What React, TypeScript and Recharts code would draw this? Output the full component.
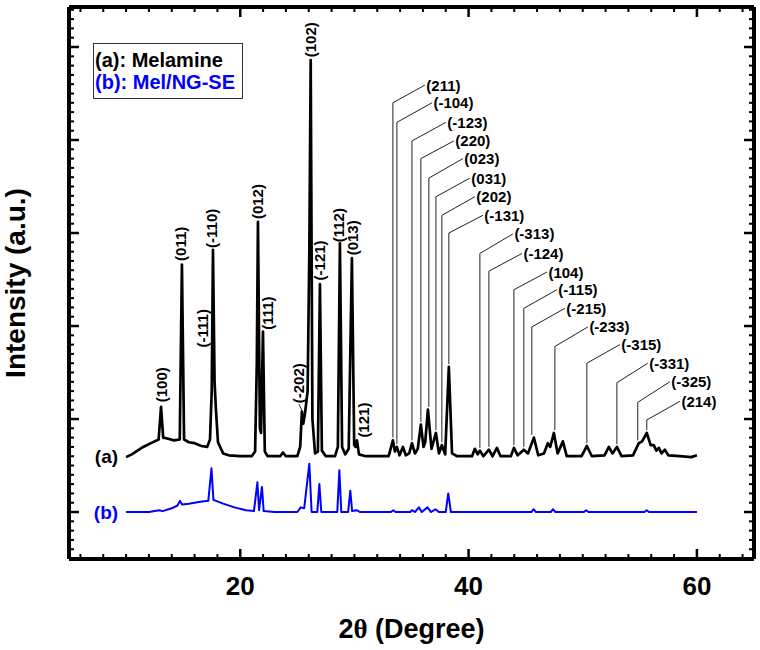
import React from 'react';
import { ComposedChart, Line, Scatter, XAxis, YAxis, Legend } from 'recharts';

const FONT = '"Liberation Sans", Arial, Helvetica, sans-serif';
const BLUE = '#0000ff';

// 2theta (deg) / intensity (a.u., offset)
const melamine: [number, number][] = [
  [10.0, 0.59], [10.5, 0.62], [11.0, 0.66], [11.5, 0.7], [12.0, 0.73], [12.5, 0.76],
  [12.85, 0.78], [13.06, 1.13], [13.25, 0.8], [13.6, 0.79], [14.2, 0.77], [14.7, 0.78],
  [14.89, 2.66], [15.08, 0.78], [15.5, 0.75], [16.0, 0.74], [16.6, 0.71], [17.1, 0.7],
  [17.35, 0.78], [17.5, 1.3], [17.61, 2.82], [17.75, 1.4], [17.87, 1.1], [18.05, 0.75],
  [18.5, 0.63], [19.0, 0.61], [20.0, 0.6], [21.0, 0.6], [21.3, 0.65], [21.45, 1.6],
  [21.55, 3.12], [21.72, 0.9], [21.82, 0.85], [21.99, 1.94], [22.15, 0.65], [22.4, 0.6],
  [23.5, 0.6], [23.74, 0.64], [24.0, 0.6], [25.0, 0.6], [25.25, 0.7], [25.4, 1.08],
  [25.52, 0.95], [25.67, 1.06], [25.9, 1.3], [26.05, 2.8], [26.17, 4.86], [26.32, 1.0],
  [26.55, 0.63], [26.8, 0.65], [26.98, 2.45], [27.15, 0.66], [27.5, 0.6], [28.3, 0.6],
  [28.55, 0.7], [28.73, 2.89], [28.92, 0.7], [29.2, 0.62], [29.5, 0.68], [29.78, 2.73],
  [29.98, 0.72], [30.1, 0.7], [30.22, 0.77], [30.4, 0.62], [31.0, 0.6], [33.0, 0.6],
  [33.37, 0.77], [33.55, 0.65], [33.72, 0.7], [33.95, 0.61], [34.25, 0.7], [34.5, 0.61],
  [34.8, 0.63], [35.04, 0.74], [35.3, 0.63], [35.55, 0.68], [35.82, 0.94], [36.05, 0.7],
  [36.2, 0.75], [36.44, 1.1], [36.75, 0.68], [37.14, 0.85], [37.4, 0.63], [37.66, 0.72],
  [37.95, 0.62], [38.27, 1.56], [38.55, 0.63], [39.0, 0.6], [40.3, 0.6], [40.55, 0.68],
  [40.8, 0.62], [40.99, 0.66], [41.3, 0.6], [41.78, 0.67], [42.1, 0.6], [42.48, 0.69],
  [42.8, 0.6], [43.7, 0.6], [43.97, 0.69], [44.3, 0.61], [44.84, 0.67], [45.2, 0.63],
  [45.72, 0.8], [46.1, 0.61], [46.6, 0.63], [46.94, 0.74], [47.15, 0.7], [47.47, 0.85],
  [47.8, 0.63], [48.26, 0.76], [48.6, 0.6], [49.9, 0.6], [50.36, 0.71], [50.8, 0.6],
  [51.9, 0.61], [52.29, 0.7], [52.6, 0.63], [52.99, 0.7], [53.4, 0.6], [54.4, 0.61],
  [54.91, 0.74], [55.2, 0.76], [55.61, 0.85], [55.95, 0.72], [56.22, 0.72], [56.45, 0.66],
  [56.66, 0.69], [56.9, 0.63], [57.19, 0.67], [57.5, 0.61], [58.5, 0.6], [59.5, 0.59],
  [60.0, 0.61],
];

const melNgSe: [number, number][] = [
  [10.0, 0.0], [12.0, 0.0], [12.9, 0.02], [13.2, 0.01], [14.0, 0.04], [14.5, 0.07],
  [14.72, 0.12], [14.9, 0.08], [15.5, 0.09], [16.5, 0.11], [17.2, 0.12], [17.48, 0.47],
  [17.65, 0.13], [18.5, 0.09], [19.5, 0.05], [20.5, 0.02], [21.2, 0.01], [21.5, 0.32],
  [21.65, 0.02], [21.9, 0.27], [22.05, 0.01], [23.0, 0.0], [25.0, 0.0], [25.3, 0.05],
  [25.6, 0.04], [26.05, 0.52], [26.25, 0.0], [26.75, 0.0], [26.93, 0.3], [27.1, 0.0],
  [28.5, 0.0], [28.68, 0.45], [28.85, 0.0], [29.45, 0.0], [29.64, 0.23], [29.8, 0.01],
  [30.2, 0.02], [30.5, 0.0], [33.2, 0.0], [33.4, 0.02], [33.6, 0.0], [34.9, 0.0],
  [35.04, 0.02], [35.3, 0.0], [35.65, 0.05], [35.9, 0.0], [36.4, 0.05], [36.7, 0.0],
  [37.1, 0.03], [37.4, 0.0], [38.0, 0.0], [38.22, 0.2], [38.45, 0.0], [45.5, 0.0],
  [45.7, 0.03], [45.9, 0.0], [47.2, 0.0], [47.4, 0.03], [47.6, 0.0], [50.1, 0.0],
  [50.3, 0.02], [50.5, 0.0], [55.4, 0.0], [55.6, 0.02], [55.8, 0.0], [60.0, 0.0],
];

// vertical (rotated) Miller index labels: position of the label foot
const hklLeft = ['(100)', '(011)', '(-111)', '(-110)', '(012)', '(111)', '(-202)', '(102)', '(-121)', '(112)', '(013)', '(121)'];
const hklLeftT = [13.14, 14.81, 16.73, 17.52, 21.55, 22.43, 25.14, 26.19, 26.98, 28.64, 29.87, 30.83];
const hklLeftV = [1.18, 2.7, 1.77, 2.84, 3.15, 1.96, 1.17, 4.89, 2.49, 2.9, 2.76, 0.8];

// leader-line labels on the right side
const hklRight = ['(211)', '(-104)', '(-123)', '(220)', '(023)', '(031)', '(202)', '(-131)', '(-313)', '(-124)', '(104)', '(-115)', '(-215)', '(-233)', '(-315)', '(-331)', '(-325)', '(214)'];
const hklPeak = [33.37, 33.72, 35.04, 35.82, 36.52, 37.14, 37.66, 38.27, 40.99, 41.78, 43.97, 44.84, 45.54, 47.56, 50.36, 52.99, 54.82, 55.61];
const hklFoot = [0.8, 0.73, 0.77, 0.97, 1.13, 0.88, 0.75, 1.59, 0.69, 0.7, 0.72, 0.7, 0.83, 0.88, 0.74, 0.73, 0.77, 0.88];
const hklKnee = [4.4, 4.19, 3.99, 3.8, 3.59, 3.39, 3.19, 3.0, 2.78, 2.59, 2.39, 2.19, 1.99, 1.78, 1.6, 1.39, 1.18, 0.99];
const hklTextT = [36.17, 36.79, 38.01, 38.71, 39.5, 40.11, 40.55, 41.25, 43.88, 44.67, 46.86, 47.73, 48.43, 50.45, 53.25, 55.7, 57.63, 58.51];
const hklTextV = [4.59, 4.4, 4.19, 3.99, 3.8, 3.59, 3.39, 3.19, 2.99, 2.78, 2.58, 2.39, 2.19, 1.99, 1.8, 1.6, 1.4, 1.19];

// short leader for (-202)
const leader202: [number, number][] = [[25.14, 1.16], [25.45, 1.08]];

const curveTags = ['(a)', '(b)'];
const curveTagV = [0.6, 0.0];
const curveTagColor = ['#000', BLUE];

const xDomain = [5, 65];
const yDomain = [-0.505, 5.43];
const xMajorTicks = [20, 40, 60];
const xMinorTicks = [6, 8, 10, 12, 14, 16, 18, 22, 24, 26, 28, 30, 32, 34, 36, 38, 42, 44, 46, 48, 50, 52, 54, 56, 58, 62, 64];
const yMajorTicks = [0, 1, 2, 3, 4, 5];
// minor ticks every 0.1 between the majors
const yMinorTicks = Array.from({ length: 59 }, (_, i) => (i - 4) / 10).filter((v) => Math.round(v * 10) % 10 !== 0);

const MARGIN = { top: 7, right: 6, bottom: 91, left: 69 };
const CHART_W = 760;
const CHART_H = 650;
const THIN = 0.01;
// data units per pixel, so the inward frame ticks keep a fixed pixel length
const xPerPx = (xDomain[1] - xDomain[0]) / (CHART_W - MARGIN.left - MARGIN.right);
const yPerPx = (yDomain[1] - yDomain[0]) / (CHART_H - MARGIN.top - MARGIN.bottom);
const MAJOR_LEN = 10;
const MINOR_LEN = 5;

const toPts = (arr: [number, number][]) => arr.map(([t, v]) => ({ t, v }));

const seriesA = toPts(melamine);
const seriesB = toPts(melNgSe);
const leftLabels = hklLeft.map((label, i) => ({ t: hklLeftT[i], v: hklLeftV[i], label }));
const rightLabels = hklRight.map((label, i) => ({ t: hklTextT[i], v: hklTextV[i], label }));
const leaders = hklRight.map((_, i) => [
  { t: hklPeak[i], v: hklFoot[i] },
  { t: hklPeak[i], v: hklKnee[i] },
  { t: hklTextT[i], v: hklTextV[i] },
]);
const tags = curveTags.map((label, i) => ({ t: 9.3, v: curveTagV[i], label, color: curveTagColor[i] }));

type Seg = { pts: { t: number; v: number }[]; major: boolean };
const xTickSegs: Seg[] = [
  ...xMajorTicks.map((t) => ({ t, major: true })),
  ...xMinorTicks.map((t) => ({ t, major: false })),
].flatMap(({ t, major }) => {
  const d = (major ? MAJOR_LEN : MINOR_LEN) * yPerPx;
  return [
    { pts: [{ t, v: yDomain[0] }, { t, v: yDomain[0] + d }], major },
    { pts: [{ t, v: yDomain[1] }, { t, v: yDomain[1] - d }], major },
  ];
});
const yTickSegs: Seg[] = [
  ...yMajorTicks.map((v) => ({ v, major: true })),
  ...yMinorTicks.map((v) => ({ v, major: false })),
].flatMap(({ v, major }) => {
  const d = (major ? MAJOR_LEN : MINOR_LEN) * xPerPx;
  return [
    { pts: [{ t: xDomain[0], v }, { t: xDomain[0] + d, v }], major },
    { pts: [{ t: xDomain[1], v }, { t: xDomain[1] - d, v }], major },
  ];
});
const tickSegs = [...xTickSegs, ...yTickSegs];

const XLabel = (props: any) => {
  const { payload } = props;
  return (
    <text x={payload.coordinate} y={props.y + 16} dy="0.71em" textAnchor="middle" fontSize={26} fontWeight="bold" fontFamily={FONT} fill="#000">
      {payload.value}
    </text>
  );
};

const VerticalLabel = (props: any) => {
  const { cx, cy, payload } = props;
  return (
    <text x={cx} y={cy} transform={`rotate(-90 ${cx} ${cy})`} dominantBaseline="central"
      fontSize={15} fontWeight="bold" fontFamily={FONT} fill="#000">
      {payload.label}
    </text>
  );
};

const SideLabel = (props: any) => {
  const { cx, cy, payload } = props;
  return (
    <text x={cx + 1.5} y={cy} dominantBaseline="central" fontSize={15} fontWeight="bold" fontFamily={FONT} fill="#000">
      {payload.label}
    </text>
  );
};

const TagLabel = (props: any) => {
  const { cx, cy, payload } = props;
  return (
    <text x={cx} y={cy} dominantBaseline="central" textAnchor="end" fontSize={19} fontWeight="bold" fontFamily={FONT} fill={payload.color}>
      {payload.label}
    </text>
  );
};

const LegendBox = () => (
  <div style={{
    boxSizing: 'border-box', width: 150, height: 56, border: '1px solid #333', background: '#fff',
    padding: '5px 0 0 1px', fontFamily: FONT, fontWeight: 'bold', fontSize: 20, lineHeight: '22px', whiteSpace: 'nowrap',
  }}>
    <div style={{ color: '#000' }}>(a): Melamine</div>
    <div style={{ color: BLUE }}>(b): Mel/NG-SE</div>
  </div>
);

const frame = { stroke: '#000', strokeWidth: 4 };

const App: React.FC = () => (
  <div style={{ position: 'absolute', left: 0, top: 0, width: CHART_W, height: CHART_H, background: '#fff' }}>
    <ComposedChart width={CHART_W} height={CHART_H} margin={MARGIN}>
      <XAxis xAxisId="x" type="number" dataKey="t" domain={xDomain} ticks={xMajorTicks} allowDataOverflow interval={0}
        height={THIN} axisLine={frame} tickLine={false} tickSize={0} tick={XLabel}
        label={{
          content: (p: any) => {
            const vb = p.viewBox;
            return (
              <text x={vb.x + vb.width / 2} y={vb.y + 79} textAnchor="middle" fontSize={27} fontWeight="bold" fontFamily={FONT} fill="#000">
                2<tspan fontFamily='"Liberation Serif", "DejaVu Serif", serif'>θ</tspan> (Degree)
              </text>
            );
          },
        }}
      />
      <XAxis xAxisId="xt" orientation="top" type="number" domain={xDomain} ticks={xMajorTicks} allowDataOverflow
        height={THIN} axisLine={frame} tickLine={false} tick={false} />

      <YAxis yAxisId="y" type="number" dataKey="v" domain={yDomain} ticks={yMajorTicks} allowDataOverflow
        width={THIN} axisLine={frame} tickLine={false} tick={false}
        label={{
          content: (p: any) => {
            const vb = p.viewBox;
            const x = vb.x - 44;
            const y = vb.y + vb.height / 2;
            return (
              <text x={x} y={y} transform={`rotate(-90 ${x} ${y})`} textAnchor="middle" fontSize={28} fontWeight="bold" fontFamily={FONT} fill="#000">
                Intensity (a.u.)
              </text>
            );
          },
        }}
      />
      <YAxis yAxisId="yr" orientation="right" type="number" domain={yDomain} ticks={yMajorTicks} allowDataOverflow
        width={THIN} axisLine={frame} tickLine={false} tick={false} />

      <Legend verticalAlign="middle" align="center" layout="horizontal"
        wrapperStyle={{ left: 93, top: 43, width: 150, height: 56 }} content={() => <LegendBox />} />

      {/* inward frame ticks */}
      {tickSegs.map((s, i) => (
        <Line key={`tk-${i}`} xAxisId="x" yAxisId="y" data={s.pts} dataKey="v" type="linear" stroke="#000"
          strokeWidth={s.major ? 2.5 : 2} strokeLinecap="butt" dot={false} activeDot={false} isAnimationActive={false} />
      ))}

      <Line xAxisId="x" yAxisId="y" data={seriesB} dataKey="v" type="linear" stroke={BLUE} strokeWidth={2}
        dot={false} activeDot={false} isAnimationActive={false} strokeLinejoin="round" />
      <Line xAxisId="x" yAxisId="y" data={seriesA} dataKey="v" type="linear" stroke="#000" strokeWidth={2.7}
        dot={false} activeDot={false} isAnimationActive={false} strokeLinejoin="round" />

      {leaders.map((pts, i) => (
        <Line key={`ld-${i}`} xAxisId="x" yAxisId="y" data={pts} dataKey="v" type="linear" stroke="#222"
          strokeWidth={1} dot={false} activeDot={false} isAnimationActive={false} />
      ))}
      <Line xAxisId="x" yAxisId="y" data={toPts(leader202)} dataKey="v" type="linear" stroke="#222"
        strokeWidth={1} dot={false} activeDot={false} isAnimationActive={false} />

      <Scatter xAxisId="x" yAxisId="y" data={leftLabels} shape={VerticalLabel} isAnimationActive={false} />
      <Scatter xAxisId="x" yAxisId="y" data={rightLabels} shape={SideLabel} isAnimationActive={false} />
      <Scatter xAxisId="x" yAxisId="y" data={tags} shape={TagLabel} isAnimationActive={false} />
    </ComposedChart>
  </div>
);

export default App;
